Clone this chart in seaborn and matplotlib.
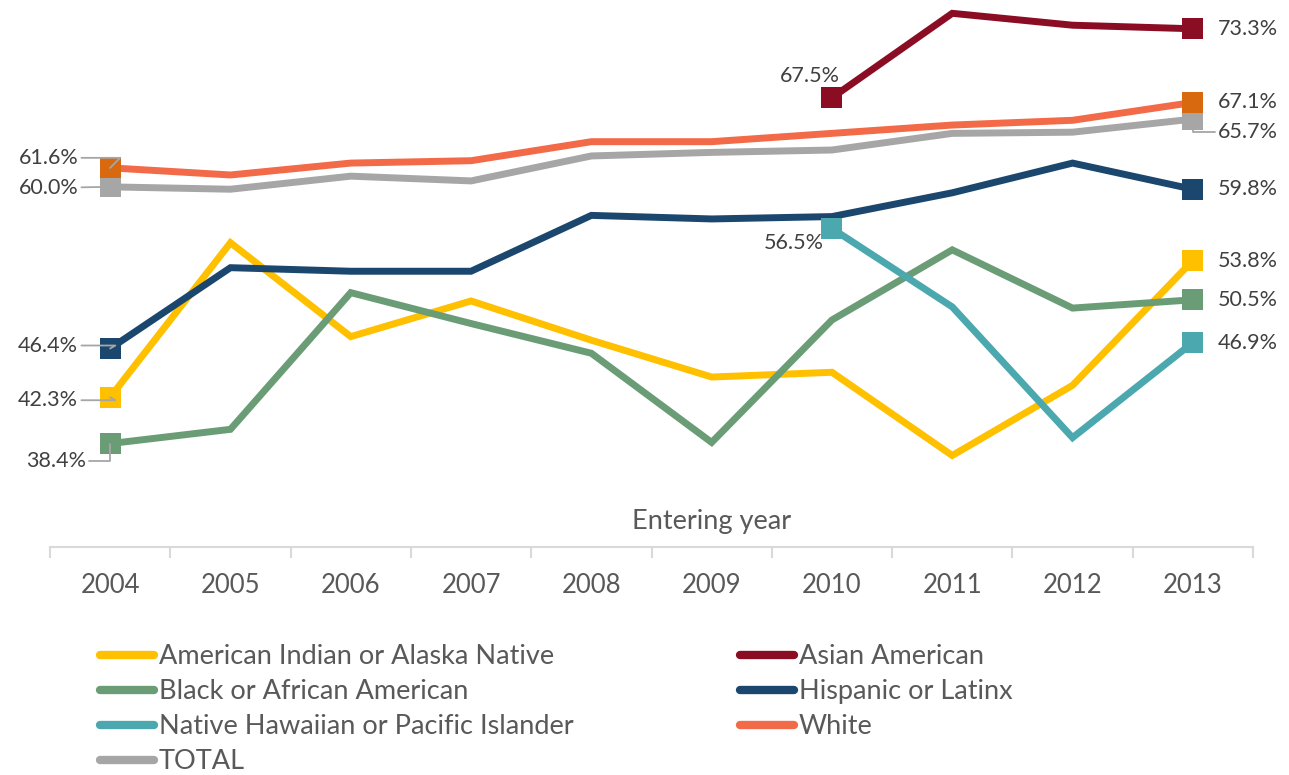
import numpy as np
import pandas as pd
import matplotlib
matplotlib.use("Agg")
import matplotlib.pyplot as plt
from matplotlib.lines import Line2D
import seaborn as sns

sns.set_style("white")
plt.rcParams["font.family"] = ["Lato", "DejaVu Sans"]

# ---- data (graduation rate %) ----
years = [2004, 2005, 2006, 2007, 2008, 2009, 2010, 2011, 2012, 2013]
aian = [42.3, 55.3, 47.4, 50.4, 47.1, 44.0, 44.4, 37.4, 43.3, 53.8]
asian = [np.nan] * 6 + [67.5, 74.6, 73.6, 73.3]
black = [38.4, 39.6, 51.1, 48.5, 46.0, 38.5, 48.8, 54.7, 49.8, 50.5]
hispanic = [46.4, 53.2, 52.9, 52.9, 57.6, 57.3, 57.5, 59.5, 62.0, 59.8]
nhpi = [np.nan] * 6 + [56.5, 49.9, 38.9, 46.9]
white = [61.6, 61.0, 62.0, 62.2, 63.8, 63.8, 64.5, 65.2, 65.6, 67.1]
total = [60.0, 59.8, 60.9, 60.5, 62.6, 62.9, 63.1, 64.5, 64.6, 65.7]

series_names = ["American Indian or Alaska Native", "Asian American",
                "Black or African American", "Hispanic or Latinx",
                "Native Hawaiian or Pacific Islander", "White", "TOTAL"]
series_vals = [aian, asian, black, hispanic, nhpi, white, total]
line_colors = ["#FFC000", "#8B0D24", "#6A9C76", "#1B476E", "#4BA8AF", "#F26A47", "#A6A6A6"]
marker_colors = ["#FFC000", "#8B0D24", "#6A9C76", "#1B476E", "#4BA8AF", "#D8690F", "#A6A6A6"]

rows = []
for name, vals in zip(series_names, series_vals):
    for i, v in enumerate(vals):
        rows.append({"series": name, "idx": i, "rate": v})
df = pd.DataFrame(rows).dropna()

fig = plt.figure(figsize=(12.89, 7.75), dpi=100)
ax = fig.add_axes([50 / 1289, 228 / 775, 1203 / 1289, 542 / 775])

palette = dict(zip(series_names, line_colors))
sns.lineplot(data=df, x="idx", y="rate", hue="series", palette=palette,
             hue_order=series_names, linewidth=5, legend=False, ax=ax,
             sort=True)
for ln in ax.lines:
    ln.set_solid_joinstyle("miter")

# endpoint square markers
first = df.groupby("series").first().reset_index()
last = df.groupby("series").last().reset_index()
ends = pd.concat([first, last])
sns.scatterplot(data=ends, x="idx", y="rate", hue="series",
                palette=dict(zip(series_names, marker_colors)),
                marker="s", s=230, linewidth=0, legend=False, ax=ax, zorder=5)

ax.set_xlim(-0.5, 9.5)
ax.set_ylim(29.7, 75.3)
ax.set_xlabel("")
ax.set_ylabel("")
ax.set_yticks([])
for s in ["left", "top", "right"]:
    ax.spines[s].set_visible(False)
ax.spines["bottom"].set_color("#D9D9D9")
ax.spines["bottom"].set_linewidth(1.5)
ax.set_xticks(np.arange(-0.5, 10, 1))
ax.set_xticklabels([])
ax.tick_params(axis="x", which="major", bottom=True, length=8, width=1.5,
               color="#D9D9D9", direction="out")
ax.set_xticks(np.arange(10), minor=True)
ax.set_xticklabels([str(y) for y in years], minor=True)
ax.tick_params(axis="x", which="minor", bottom=True, length=0, pad=19,
               labelsize=18.5, labelcolor="#595959")

fig.text(712 / 1289, 1 - 522 / 775, "Entering year", ha="center", va="center",
         fontsize=19.5, color="#595959")

# ---- data labels ----
lab_color = "#404040"
lead = dict(arrowstyle="-", color="#A6A6A6", lw=1.3, shrinkA=0, shrinkB=0)

def label(x, y, text, dx, dy, ha, conn=None):
    kw = {}
    if conn is not None:
        p = dict(lead)
        p["connectionstyle"] = conn
        kw["arrowprops"] = p
    ax.annotate(text, xy=(x, y), xytext=(dx, dy), textcoords="offset pixels",
                ha=ha, va="center", fontsize=15.5, color=lab_color, zorder=6, **kw)

label(0, white[0], "61.6%", -32, 10, "right", "angle,angleA=0,angleB=45,rad=0")
label(0, total[0], "60.0%", -32, -1, "right", "arc3")
label(0, hispanic[0], "46.4%", -32, 3, "right", "angle,angleA=0,angleB=30,rad=0")
label(0, aian[0], "42.3%", -32, -3, "right", "angle,angleA=0,angleB=-30,rad=0")
label(0, black[0], "38.4%", -24, -17, "right", "angle,angleA=0,angleB=90,rad=0")
label(6, asian[6], "67.5%", 8, 22, "right")
label(6, nhpi[6], "56.5%", -8, -15, "right")
label(9, asian[9], "73.3%", 25, 0, "left")
label(9, white[9], "67.1%", 25, 0, "left")
label(9, total[9], "65.7%", 25, -13, "left", "angle,angleA=0,angleB=90,rad=0")
label(9, hispanic[9], "59.8%", 25, 0, "left")
label(9, aian[9], "53.8%", 25, 0, "left")
label(9, black[9], "50.5%", 25, 0, "left")
label(9, nhpi[9], "46.9%", 25, 0, "left")

# ---- legend (two columns) ----
def handle(c):
    return Line2D([0], [0], color=c, lw=6, solid_capstyle="round")

col1 = [0, 2, 4, 6]
col2 = [1, 3, 5]
leg_kw = dict(frameon=False, fontsize=19.5, handlelength=2.0, handletextpad=0.18,
              labelspacing=0.37, labelcolor="#595959", borderpad=0, borderaxespad=0)
fig.legend([handle(line_colors[i]) for i in col1], [series_names[i] for i in col1],
           loc="upper left", bbox_to_anchor=(100 / 1289, 1 - 644 / 775), **leg_kw)
fig.legend([handle(line_colors[i]) for i in col2], [series_names[i] for i in col2],
           loc="upper left", bbox_to_anchor=(740 / 1289, 1 - 644 / 775), **leg_kw)

fig.savefig("out.png", dpi=100)
